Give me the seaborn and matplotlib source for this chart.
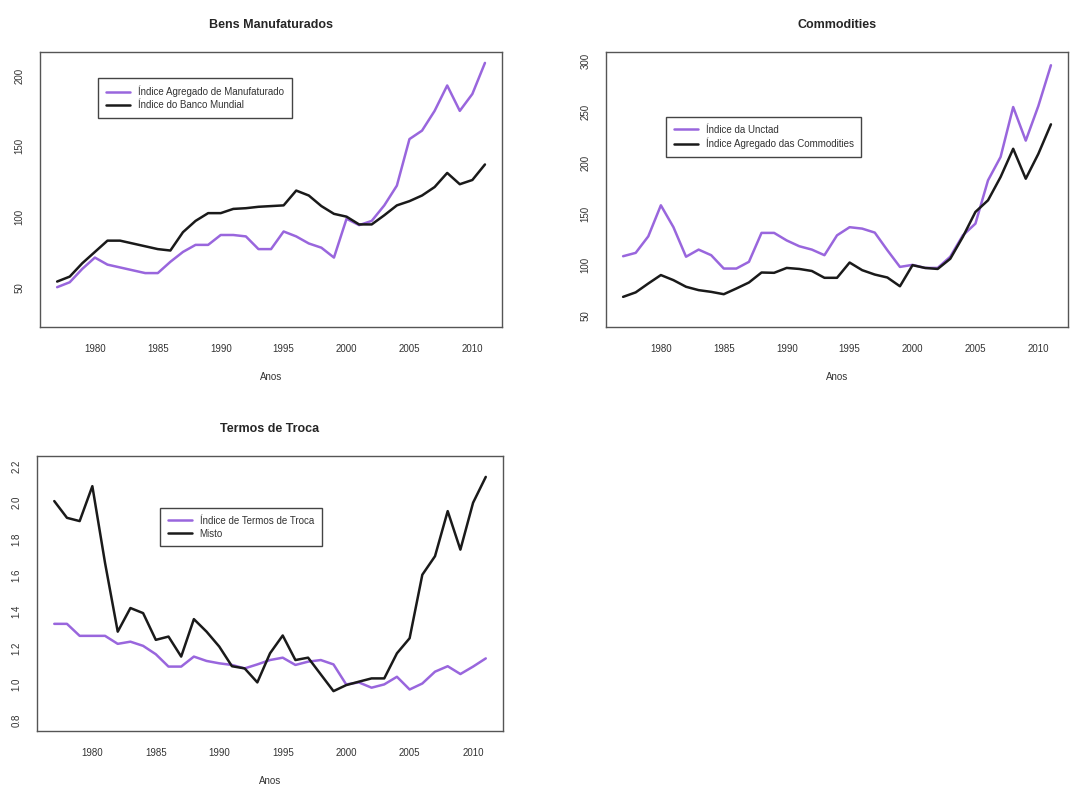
import matplotlib
matplotlib.use("Agg")
import matplotlib.pyplot as plt
import pandas as pd
import seaborn as sns

years = list(range(1977, 2012))

manufaturados = [50, 53.5, 63, 71, 66, 64, 62, 60, 60, 68, 75, 80, 80, 87, 87, 86, 77, 77,
                 89.5, 86, 81, 78, 71, 98.5, 94, 97, 108, 122, 155, 161, 175, 193, 175, 187, 209]
banco_mundial = [54, 57.5, 67, 75, 83, 83, 81, 79, 77, 76, 89, 97, 102.5, 102.5, 105.5, 106, 107,
                 107.5, 108, 118.5, 115, 107.5, 102, 100, 94.5, 94.5, 101, 108, 111, 115, 121,
                 131, 123, 126, 137]

unctad = [108.5, 111.8, 128, 158.5, 137, 108, 115, 109.5, 96.4, 96.4, 103, 131.4, 131.4, 124,
          118.3, 115, 109.5, 129, 137, 135.6, 131.7, 114.4, 98, 100, 97, 97, 108, 129, 140.5,
          183, 206, 255, 222, 256, 296]
commodities = [68.6, 73, 81.7, 90, 85, 78.5, 75.2, 73.5, 71.2, 76.8, 82.7, 92.5, 92.2, 97, 96,
               94, 87.3, 87.3, 102.3, 94.8, 90.5, 87.6, 79, 99.7, 97, 96, 106, 127.5, 152,
               163.4, 186.3, 214, 184.6, 209, 238]

termos_troca = [1.333, 1.333, 1.267, 1.267, 1.267, 1.223, 1.235, 1.212, 1.166, 1.098, 1.098,
                1.153, 1.129, 1.116, 1.107, 1.088, 1.110, 1.134, 1.147, 1.107, 1.125, 1.134,
                1.110, 1.0, 1.011, 0.982, 1.0, 1.042, 0.972, 1.005, 1.07, 1.10, 1.057, 1.098,
                1.143]
misto = [2.008, 1.916, 1.898, 2.09, 1.668, 1.29, 1.42, 1.392, 1.245, 1.263, 1.153, 1.359, 1.29,
         1.208, 1.10, 1.088, 1.011, 1.171, 1.269, 1.134, 1.147, 1.055, 0.963, 0.996, 1.015,
         1.033, 1.033, 1.171, 1.254, 1.603, 1.705, 1.953, 1.741, 1.999, 2.141]

PURPLE = "#9966dd"
BLACK = "#1a1a1a"


def long_df(a_name, a_vals, b_name, b_vals):
    return pd.concat([
        pd.DataFrame({"ano": years, "valor": a_vals, "serie": a_name}),
        pd.DataFrame({"ano": years, "valor": b_vals, "serie": b_name}),
    ])


def r_limits(lo, hi):
    pad = 0.04 * (hi - lo)
    return lo - pad, hi + pad


def panel(ax, df, names, title, ylim, yticks, yfmt, legend_anchor):
    sns.lineplot(data=df, x="ano", y="valor", hue="serie", hue_order=names,
                 palette={names[0]: PURPLE, names[1]: BLACK}, linewidth=1.8, ax=ax)
    ax.set_xlim(*r_limits(1977, 2011))
    ax.set_ylim(*r_limits(*ylim))
    ax.set_xticks([1980, 1985, 1990, 1995, 2000, 2005, 2010])
    ax.set_yticks(yticks)
    ax.set_yticklabels([yfmt.format(v) for v in yticks], rotation=90, va="center")
    ax.tick_params(labelsize=7, length=5, color="#555555", labelcolor="#333333")
    ax.tick_params(axis="x", pad=7)
    ax.tick_params(axis="y", pad=6)
    ax.set_title(title, fontsize=9, fontweight="bold", pad=17)
    ax.set_xlabel("Anos", fontsize=7, color="#333333", labelpad=13)
    ax.set_ylabel("")
    for s in ax.spines.values():
        s.set_visible(True)
        s.set_color("#555555")
        s.set_linewidth(1.0)
    leg = ax.legend(loc="upper left", bbox_to_anchor=legend_anchor, fontsize=7,
                    frameon=True, fancybox=False, framealpha=1, edgecolor="#444444",
                    handlelength=2.5, borderpad=0.8, labelspacing=0.3)
    for t in leg.get_texts():
        t.set_color("#333333")


def main():
    sns.set_theme(style="white")
    plt.rcParams["font.family"] = ["Liberation Sans", "DejaVu Sans"]

    fig = plt.figure(figsize=(10.76, 7.87), dpi=100)
    ax1 = fig.add_axes([0.0372, 0.5845, 0.4294, 0.3494])
    ax2 = fig.add_axes([0.5632, 0.5845, 0.4294, 0.3494])
    ax3 = fig.add_axes([0.0344, 0.0712, 0.4331, 0.3494])

    n1 = ["Índice Agregado de Manufaturado", "Índice do Banco Mundial"]
    panel(ax1, long_df(n1[0], manufaturados, n1[1], banco_mundial), n1,
          "Bens Manufaturados", (29, 209.5), [50, 100, 150, 200], "{:.0f}", (0.115, 0.924))

    n2 = ["Índice da Unctad", "Índice Agregado das Commodities"]
    panel(ax2, long_df(n2[0], unctad, n2[1], commodities), n2,
          "Commodities", (49, 299), [50, 100, 150, 200, 250, 300], "{:.0f}", (0.119, 0.782))

    n3 = ["Índice de Termos de Troca", "Misto"]
    panel(ax3, long_df(n3[0], termos_troca, n3[1], misto), n3,
          "Termos de Troca", (0.8, 2.2), [0.8, 1.0, 1.2, 1.4, 1.6, 1.8, 2.0, 2.2], "{:.1f}",
          (0.253, 0.829))

    fig.savefig("out.png", dpi=100)
    plt.close(fig)


if __name__ == "__main__":
    main()
